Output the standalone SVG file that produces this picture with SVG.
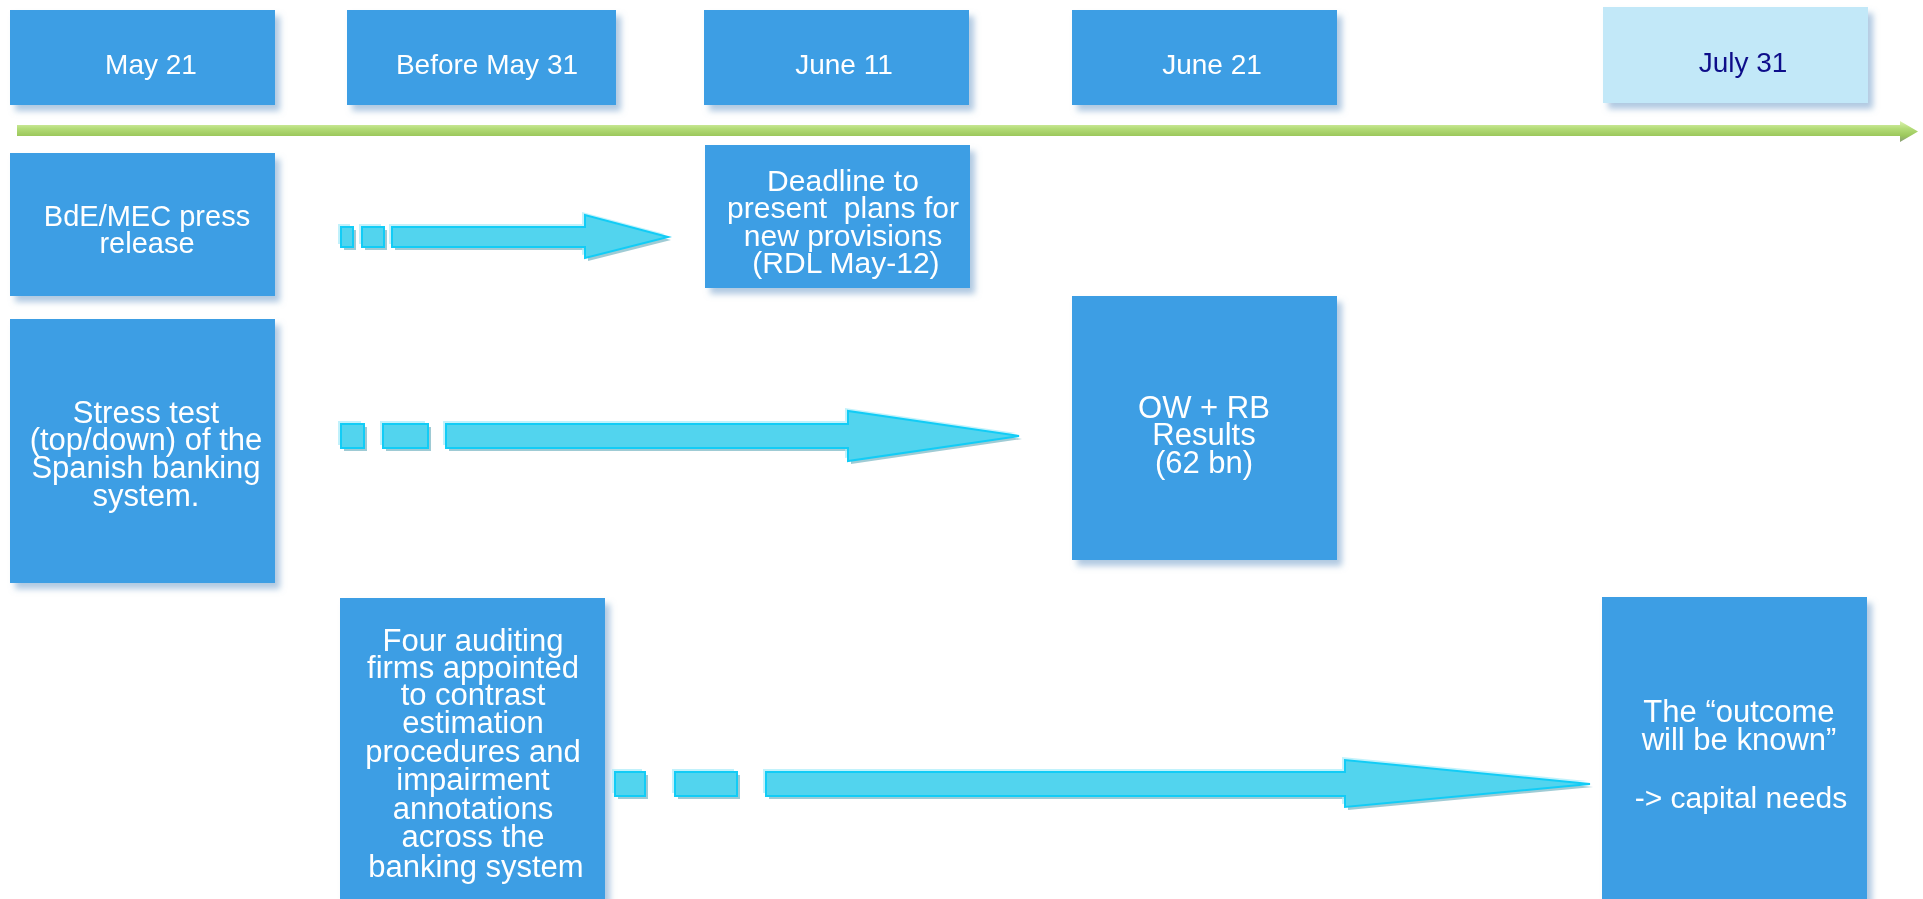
<svg xmlns="http://www.w3.org/2000/svg" width="1923" height="899" viewBox="0 0 1923 899">
<defs>
<filter id="sh" x="-10%" y="-10%" width="130%" height="130%">
<feGaussianBlur in="SourceAlpha" stdDeviation="3"/>
<feOffset dx="5" dy="6" result="b"/>
<feFlood flood-color="#6F9CC8" flood-opacity="0.55"/>
<feComposite in2="b" operator="in"/>
<feMerge><feMergeNode/><feMergeNode in="SourceGraphic"/></feMerge>
</filter>
<linearGradient id="gl" x1="0" y1="0" x2="0" y2="1">
<stop offset="0" stop-color="#DDF3B4"/>
<stop offset="0.35" stop-color="#B4DC78"/>
<stop offset="0.7" stop-color="#9CC85C"/>
<stop offset="1" stop-color="#8A9E78"/>
</linearGradient>
<style>
.box{fill:#3D9EE4}
.lt{fill:#C2E8F8}
.t{font-family:"Liberation Sans",Arial,sans-serif;fill:#FFFFFF;text-anchor:middle}
.tn{font-family:"Liberation Sans",Arial,sans-serif;fill:#10108A;text-anchor:middle}
.am{fill:#52D4EE;stroke:#12CCF6;stroke-width:2}
.ash{fill:#5FA8B8;opacity:0.6}
.ahl{fill:#A8ECFA;opacity:0.7}
</style>
</defs>
<rect width="1923" height="899" fill="#FFFFFF"/>

<g id="timeline">
<polygon points="17,125 1900,125 1900,121 1918,131.5 1900,142 1900,136 17,136" fill="url(#gl)"/>
</g>

<g id="n-may21" filter="url(#sh)"><rect class="box" x="10" y="10" width="265" height="95"/><text class="t" x="151" y="74" font-size="28">May 21</text></g>
<g id="n-beforemay31" filter="url(#sh)"><rect class="box" x="347" y="10" width="269" height="95"/><text class="t" x="487" y="74" font-size="28">Before May 31</text></g>
<g id="n-june11" filter="url(#sh)"><rect class="box" x="704" y="10" width="265" height="95"/><text class="t" x="844" y="74" font-size="28">June 11</text></g>
<g id="n-june21" filter="url(#sh)"><rect class="box" x="1072" y="10" width="265" height="95"/><text class="t" x="1212" y="74" font-size="28">June 21</text></g>
<g id="n-july31" filter="url(#sh)"><rect class="lt" x="1603" y="7" width="265" height="96"/><text class="tn" x="1743" y="72" font-size="28">July 31</text></g>

<g id="n-press" filter="url(#sh)"><rect class="box" x="10" y="153" width="265" height="143"/>
<text class="t" font-size="29"><tspan x="147" y="226">BdE/MEC press</tspan><tspan x="147" y="253">release</tspan></text></g>

<g id="n-deadline" filter="url(#sh)"><rect class="box" x="705" y="145" width="265" height="143"/>
<text class="t" font-size="30"><tspan x="843" y="191">Deadline to</tspan><tspan x="843" y="218">present&#160; plans for</tspan><tspan x="843" y="246">new provisions</tspan><tspan x="846" y="273">(RDL May-12)</tspan></text></g>

<g id="n-stress" filter="url(#sh)"><rect class="box" x="10" y="319" width="265" height="264"/>
<text class="t" font-size="31"><tspan x="146" y="423">Stress test</tspan><tspan x="146" y="450">(top/down) of the</tspan><tspan x="146" y="478">Spanish banking</tspan><tspan x="146" y="506">system.</tspan></text></g>

<g id="n-results" filter="url(#sh)"><rect class="box" x="1072" y="296" width="265" height="264"/>
<text class="t" font-size="31"><tspan x="1204" y="418">OW + RB</tspan><tspan x="1204" y="445">Results</tspan><tspan x="1204" y="473">(62 bn)</tspan></text></g>

<g id="n-auditing" filter="url(#sh)"><rect class="box" x="340" y="598" width="265" height="310"/>
<text class="t" font-size="31"><tspan x="473" y="651">Four auditing</tspan><tspan x="473" y="678">firms appointed</tspan><tspan x="473" y="705">to contrast</tspan><tspan x="473" y="733">estimation</tspan><tspan x="473" y="762">procedures and</tspan><tspan x="473" y="790">impairment</tspan><tspan x="473" y="819">annotations</tspan><tspan x="473" y="847">across the</tspan><tspan x="476" y="877">banking system</tspan></text></g>

<g id="n-outcome" filter="url(#sh)"><rect class="box" x="1602" y="597" width="265" height="310"/>
<text class="t" font-size="31"><tspan x="1739" y="722">The “outcome</tspan><tspan x="1739" y="750">will be known”</tspan><tspan x="1741" y="808" font-size="30">-&gt; capital needs</tspan></text></g>

<g id="connectors">
<g id="a1">
<g transform="translate(3,3)" class="ash"><rect x="341" y="227" width="12" height="20"/><rect x="362" y="227" width="22" height="20"/><polygon points="392,227 585,227 585,215 668,237 585,258 585,247 392,247"/></g>
<g transform="translate(-3,-3)" class="ahl"><rect x="341" y="227" width="12" height="20"/><rect x="362" y="227" width="22" height="20"/><polygon points="392,227 585,227 585,215 668,237 585,258 585,247 392,247"/></g>
<rect class="am" x="341" y="227" width="12" height="20"/><rect class="am" x="362" y="227" width="22" height="20"/>
<polygon class="am" points="392,227 585,227 585,215 668,237 585,258 585,247 392,247"/>
</g>
<g id="a2">
<g transform="translate(3,3)" class="ash"><rect x="341" y="424" width="23" height="24"/><rect x="383" y="424" width="45" height="24"/><polygon points="446,424 848,424 848,411 1019,436 848,461 848,448 446,448"/></g>
<g transform="translate(-3,-3)" class="ahl"><rect x="341" y="424" width="23" height="24"/><rect x="383" y="424" width="45" height="24"/><polygon points="446,424 848,424 848,411 1019,436 848,461 848,448 446,448"/></g>
<rect class="am" x="341" y="424" width="23" height="24"/><rect class="am" x="383" y="424" width="45" height="24"/>
<polygon class="am" points="446,424 848,424 848,411 1019,436 848,461 848,448 446,448"/>
</g>
<g id="a3">
<g transform="translate(3,3)" class="ash"><rect x="615" y="772" width="30" height="24"/><rect x="675" y="772" width="62" height="24"/><polygon points="766,772 1345,772 1345,760 1590,784 1345,807 1345,796 766,796"/></g>
<g transform="translate(-3,-3)" class="ahl"><rect x="615" y="772" width="30" height="24"/><rect x="675" y="772" width="62" height="24"/><polygon points="766,772 1345,772 1345,760 1590,784 1345,807 1345,796 766,796"/></g>
<rect class="am" x="615" y="772" width="30" height="24"/><rect class="am" x="675" y="772" width="62" height="24"/>
<polygon class="am" points="766,772 1345,772 1345,760 1590,784 1345,807 1345,796 766,796"/>
</g>
</g>
</svg>
